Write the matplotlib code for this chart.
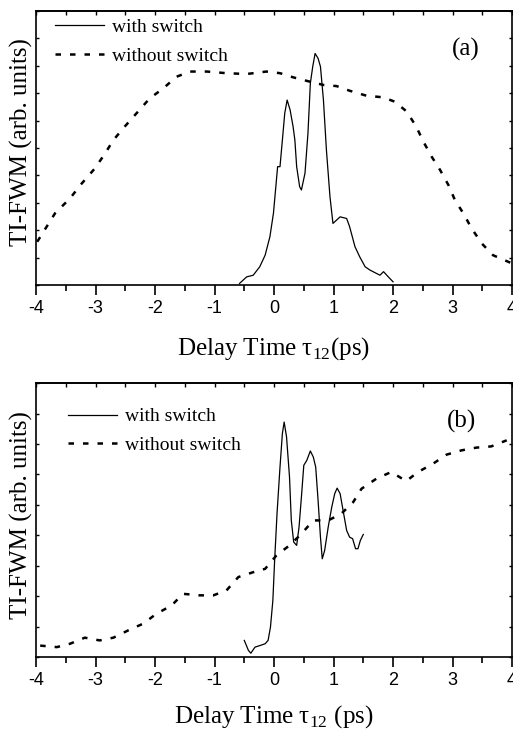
import matplotlib
matplotlib.use("Agg")
import matplotlib.pyplot as plt
from matplotlib.ticker import MultipleLocator, NullFormatter

plt.rcParams["font.family"] = ["Liberation Serif", "DejaVu Serif"]
plt.rcParams["mathtext.fontset"] = "custom"
plt.rcParams["mathtext.rm"] = "Liberation Serif"
plt.rcParams["axes.unicode_minus"] = False

# panel (a)
a_dash_x = [-3.98, -3.68, -3.43, -3.23, -3.01, -2.84, -2.70, -2.51, -2.31, -2.09,
            -1.86, -1.64, -1.41, -1.13, -0.80, -0.46, -0.13, 0.10, 0.32, 0.55,
            0.83, 1.05, 1.27, 1.55, 1.83, 2.03, 2.23, 2.39, 2.51, 2.65,
            2.79, 2.93, 3.04, 3.18, 3.32, 3.49, 3.68, 4.00]
a_dash_y = [1.58, 2.62, 3.16, 3.71, 4.26, 4.80, 5.29, 5.78, 6.27, 6.81,
            7.18, 7.60, 7.79, 7.79, 7.73, 7.70, 7.79, 7.73, 7.58, 7.45,
            7.30, 7.26, 7.09, 6.91, 6.85, 6.69, 6.33, 5.78, 5.23, 4.68,
            4.20, 3.65, 3.10, 2.62, 2.07, 1.52, 1.09, 0.79]
a_solid_x = [-0.58, -0.46, -0.35, -0.24, -0.15, -0.07, -0.01, 0.03, 0.06, 0.10,
             0.14, 0.18, 0.22, 0.27, 0.32, 0.35, 0.38, 0.43, 0.46, 0.52,
             0.57, 0.61, 0.65, 0.69, 0.74, 0.78, 0.83, 0.88, 0.94, 0.99,
             1.11, 1.22, 1.27, 1.36, 1.44, 1.53, 1.61, 1.78, 1.84, 1.92, 2.00]
a_solid_y = [0.06, 0.30, 0.36, 0.67, 1.09, 1.76, 2.62, 3.59, 4.32, 4.32,
             5.29, 6.27, 6.75, 6.39, 5.78, 5.29, 4.32, 3.59, 3.47, 4.08,
             5.54, 7.36, 7.97, 8.45, 8.27, 7.97, 6.75, 4.93, 3.22, 2.25,
             2.49, 2.43, 2.13, 1.40, 1.03, 0.67, 0.55, 0.36, 0.49, 0.30, 0.12]

# panel (b)
b_dash_x = [-3.93, -3.65, -3.43, -3.18, -2.93, -2.70, -2.45, -2.20, -1.98, -1.72,
            -1.53, -1.25, -1.02, -0.80, -0.60, -0.35, -0.15, 0.04, 0.26, 0.46,
            0.66, 0.91, 1.13, 1.33, 1.47, 1.72, 1.97, 2.22, 2.42, 2.67,
            2.90, 3.15, 3.40, 3.65, 3.91]
b_dash_y = [0.38, 0.33, 0.44, 0.64, 0.55, 0.64, 0.88, 1.10, 1.42, 1.70,
            2.08, 2.03, 2.03, 2.19, 2.63, 2.79, 2.90, 3.34, 3.67, 4.05,
            4.49, 4.49, 4.71, 5.09, 5.53, 5.86, 6.08, 5.78, 6.08, 6.35,
            6.65, 6.79, 6.88, 6.92, 7.12]
b_solid_x = [-0.50, -0.43, -0.39, -0.32, -0.24, -0.15, -0.10, -0.06, -0.02, 0.01,
             0.05, 0.10, 0.14, 0.17, 0.21, 0.26, 0.29, 0.33, 0.38, 0.42,
             0.46, 0.50, 0.55, 0.61, 0.66, 0.70, 0.74, 0.78, 0.81, 0.85,
             0.91, 0.97, 1.02, 1.06, 1.11, 1.17, 1.22, 1.27, 1.32, 1.37,
             1.41, 1.45, 1.50]
b_solid_y = [0.55, 0.22, 0.13, 0.33, 0.38, 0.44, 0.55, 0.99, 1.86, 3.18,
             4.71, 6.24, 7.34, 7.72, 7.23, 5.91, 4.49, 3.78, 3.67, 4.27,
             5.26, 6.30, 6.46, 6.77, 6.57, 6.24, 5.15, 3.94, 3.23, 3.50,
             4.27, 4.93, 5.37, 5.55, 5.37, 4.71, 4.16, 3.94, 3.89, 3.56,
             3.56, 3.83, 4.03]

fig = plt.figure(figsize=(5.13, 7.31), dpi=100)
ax_a = fig.add_axes([0.0702, 0.610, 0.928, 0.375])
ax_b = fig.add_axes([0.0702, 0.101, 0.928, 0.375])

panels = [
    (ax_a, a_solid_x, a_solid_y, a_dash_x, a_dash_y, 10, "(a)", 2.99,
     "Delay Time τ$_{12}$(ps)", 13, (0.04, 0.972)),
    (ax_b, b_solid_x, b_solid_y, b_dash_x, b_dash_y, 9, "(b)", 2.91,
     "Delay Time τ$_{12}$ (ps)", 10, (0.067, 0.91)),
]

for ax, sx, sy, dx, dy, ymax, tag, tag_x, xlabel, xpad, leg_pos in panels:
    ax.plot(sx, sy, color="black", lw=0.9, label="with switch")
    ax.plot(dx, dy, color="black", lw=1.8, linestyle=(0, (2.2, 3.6)),
            label="without switch")
    ax.set_xlim(-4, 4)
    ax.set_ylim(0, ymax)
    ax.xaxis.set_major_locator(MultipleLocator(1))
    ax.xaxis.set_minor_locator(MultipleLocator(0.5))
    ax.yaxis.set_major_locator(MultipleLocator(1))
    ax.yaxis.set_major_formatter(NullFormatter())
    ax.tick_params(axis="x", which="major", direction="out", length=7, width=1.2,
                   labelsize=13, pad=4)
    ax.tick_params(axis="x", which="minor", direction="out", length=4, width=1.2)
    ax.tick_params(axis="y", which="major", direction="in", length=2, width=1,
                   right=True)
    for lbl in ax.get_xticklabels():
        lbl.set_family(["Liberation Sans", "DejaVu Sans"])
    for s in ax.spines.values():
        s.set_linewidth(1.2)

    # top ticks point inward
    top = ax.secondary_xaxis("top")
    top.xaxis.set_major_locator(MultipleLocator(1))
    top.xaxis.set_minor_locator(MultipleLocator(0.5))
    top.tick_params(which="both", direction="in", length=3, width=1,
                    labeltop=False)
    top.spines["top"].set_linewidth(1.2)

    ax.set_xlabel(xlabel, fontsize=18, labelpad=xpad)
    ax.set_ylabel("TI-FWM (arb. units)", fontsize=18)
    ax.yaxis.set_label_coords(-0.006, 0.52)
    ax.text(tag_x, ymax * 0.86, tag, fontsize=18, ha="left", va="center")
    ax.legend(loc="upper left", bbox_to_anchor=leg_pos, frameon=False,
              fontsize=14, handlelength=2.5, handletextpad=0.45,
              labelspacing=0.55, borderpad=0, borderaxespad=0)

fig.savefig("out.png", dpi=100)
